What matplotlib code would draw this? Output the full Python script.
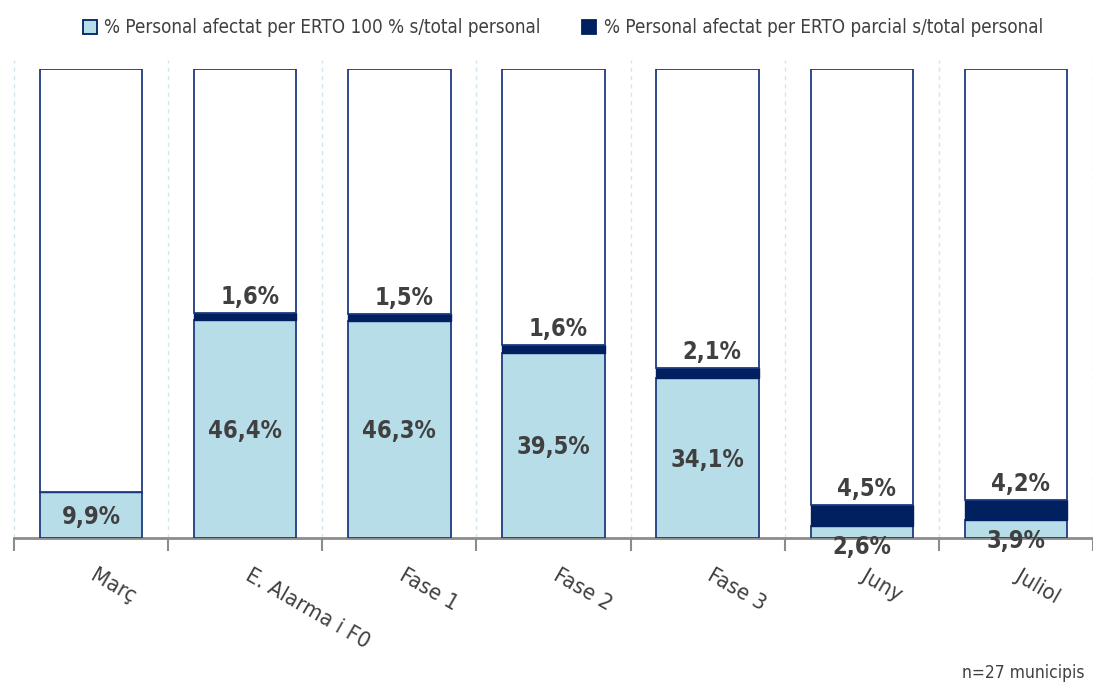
import matplotlib
matplotlib.use("Agg")
import matplotlib.pyplot as plt
from matplotlib.patches import Patch

categories = ['Març', 'E. Alarma i F0', 'Fase 1', 'Fase 2', 'Fase 3', 'Juny', 'Juliol']
erto_total = [9.9, 46.4, 46.3, 39.5, 34.1, 2.6, 3.9]
erto_parcial = [0.0, 1.6, 1.5, 1.6, 2.1, 4.5, 4.2]
legend_labels = ['% Personal afectat per ERTO 100 % s/total personal',
                 '% Personal afectat per ERTO parcial s/total personal']
note = 'n=27 municipis'

LIGHT = '#b7dde8'
NAVY = '#002060'
EDGE = '#1f3a80'
TXT = '#404040'
plt.rcParams['font.family'] = ['DejaVu Sans']
plt.rcParams['font.stretch'] = 'condensed'

fig = plt.figure(figsize=(10.93, 6.84), dpi=100)
ax = fig.add_axes([14 / 1093, (684 - 538) / 684, (1093 - 14) / 1093, 469 / 684])

x = list(range(len(categories)))
rest = [100 - a - b for a, b in zip(erto_total, erto_parcial)]
w = 0.665
ax.bar(x, erto_total, width=w, color=LIGHT, edgecolor=EDGE, linewidth=1.3, zorder=3)
ax.bar(x, erto_parcial, width=w, bottom=erto_total, color=NAVY, edgecolor=NAVY, linewidth=1.0, zorder=3)
bot2 = [a + b for a, b in zip(erto_total, erto_parcial)]
ax.bar(x, rest, width=w, bottom=bot2, color='white', edgecolor=EDGE, linewidth=1.3, zorder=3)

fmt = lambda v: f"{v:.1f}".replace('.', ',') + '%'
for i, (a, b) in enumerate(zip(erto_total, erto_parcial)):
    ya = a / 2 if a > 8 else a - 4.2
    ax.text(i, ya - 0.4, fmt(a), ha='center', va='center', fontsize=17, fontweight='bold',
            color=TXT, zorder=5, clip_on=False)
    if b > 0:
        ax.text(i + 0.03, a + b + 3.4, fmt(b), ha='center', va='center', fontsize=17,
                fontweight='bold', color=TXT, zorder=5)

ax.set_xlim(-0.5, 6.44)
ax.set_ylim(0, 100)
for s in ['top', 'right', 'left']:
    ax.spines[s].set_visible(False)
ax.spines['bottom'].set_color('#8c8c8c')
ax.spines['bottom'].set_linewidth(2)
ax.set_yticks([])

bounds = [i - 0.5 for i in range(len(categories) + 1)]
for bx in bounds:
    ax.plot([bx, bx], [0, 102], ls=(0, (3, 3)), color='#cfe6ee', lw=1.0, zorder=1, clip_on=False)
ax.set_xticks(bounds)
ax.set_xticklabels([])
ax.tick_params(axis='x', length=9, width=1.5, color='#8c8c8c', direction='out')

for i, c in enumerate(categories):
    ax.annotate(c, xy=(i, 0), xycoords='data', xytext=(1, -26), textcoords='offset points',
                rotation=-30, rotation_mode='anchor', ha='left', va='center',
                fontsize=16, color=TXT, annotation_clip=False)

handles = [Patch(facecolor=LIGHT, edgecolor=NAVY, linewidth=1.3),
           Patch(facecolor=NAVY, edgecolor=NAVY, linewidth=1.3)]
fig.legend(handles, legend_labels, loc='upper center', bbox_to_anchor=(0.515, 0.998), ncol=2,
           frameon=False, fontsize=13.5, handlelength=0.75, handleheight=0.75,
           handletextpad=0.4, columnspacing=2.2, labelcolor=TXT)

fig.text(1085 / 1093, 1 - 673 / 684, note, ha='right', va='center', fontsize=12.5, color=TXT)

fig.savefig('out.png', dpi=100)
